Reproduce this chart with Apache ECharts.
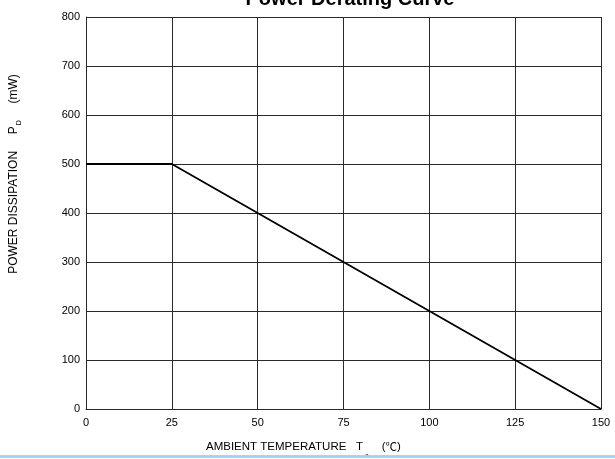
<!DOCTYPE html>
<html>
<head>
<meta charset="utf-8">
<script src="https://cdn.jsdelivr.net/npm/echarts@6/dist/echarts.min.js"></script>
<style>html,body{margin:0;padding:0;background:#fff;}#c{width:615px;height:459px;}</style>
</head>
<body>
<div id="c"></div>
<script>
var temperature = [0, 25, 150];
var powerDissipation = [500, 500, 0];
var xRange = [0, 150, 25];
var yRange = [0, 800, 100];
var titleText = 'Power Derating Curve';

var chart = echarts.init(document.getElementById('c'), null, {renderer: 'canvas'});
var font = 'Liberation Sans, Arial, sans-serif';
var gridColor = '#2a2a2a';
chart.setOption({
  animation: false,
  backgroundColor: '#fff',
  title: {
    text: titleText, left: 350, top: -11, textAlign: 'center', padding: 0,
    textStyle: {fontFamily: font, fontWeight: 'bold', fontSize: 20, color: '#000'}
  },
  grid: {left: 86, right: 14, top: 17, bottom: 50},
  xAxis: {
    type: 'value', min: xRange[0], max: xRange[1], interval: xRange[2],
    axisLine: {show: true, lineStyle: {color: gridColor, width: 1}},
    axisTick: {show: false},
    splitLine: {show: true, lineStyle: {color: gridColor, width: 1}},
    axisLabel: {fontFamily: font, fontSize: 11, color: '#000', margin: 8}
  },
  yAxis: {
    type: 'value', min: yRange[0], max: yRange[1], interval: yRange[2],
    axisLine: {show: true, lineStyle: {color: gridColor, width: 1}},
    axisTick: {show: false},
    splitLine: {show: true, lineStyle: {color: gridColor, width: 1}},
    axisLabel: {fontFamily: font, fontSize: 11, color: '#000', margin: 6}
  },
  series: [{
    type: 'line',
    data: temperature.map(function (t, i) { return [t, powerDissipation[i]]; }),
    showSymbol: false,
    lineStyle: {color: '#000', width: 1.8},
    z: 5
  }],
  graphic: [
    {
      type: 'text', x: 206, y: 447,
      style: {
        text: 'AMBIENT TEMPERATURE   {t|T}{sub|a}    ({c|℃})',
        font: '11.5px ' + font, fill: '#000', textVerticalAlign: 'middle',
        rich: {
          t: {fontSize: 11.5, fontFamily: font, fill: '#000'},
          c: {fontSize: 11.5, fontFamily: 'Noto Sans CJK SC', fill: '#000'},
          sub: {fontSize: 7, fontFamily: font, fill: '#000', padding: [18, 0, 0, 2]}
        }
      }
    },
    {
      type: 'text', x: 14, y: 174, rotation: Math.PI / 2,
      style: {
        text: 'POWER DISSIPATION     {t|P}{sub|D}     (mW)',
        font: '12px ' + font, fill: '#000', textAlign: 'center', textVerticalAlign: 'middle',
        rich: {
          t: {fontSize: 12, fontFamily: font, fill: '#000'},
          sub: {fontSize: 7, fontFamily: font, fill: '#000', padding: [10, 0, 0, 1]}
        }
      }
    },
    {
      type: 'rect', z: 100, shape: {x: 0, y: 455, width: 615, height: 3},
      style: {fill: '#a9d3ee'}
    }
  ]
});
</script>
</body>
</html>
